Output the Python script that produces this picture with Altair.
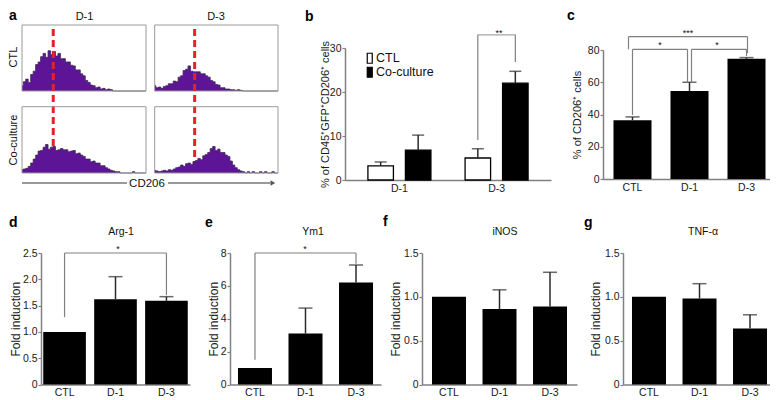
import altair as alt
import pandas as pd

FONT = "Liberation Sans"
GRAY = "#808080"
DARK = "#2b2b2b"
PURPLE = "#5e1496"
RED = "#e8202a"
W, H = 762, 392
M = 8


def p(v):
    return v - M

# ---------------- data ----------------
# panel a : flow histograms (CD206 fluorescence bins, % of box height)
hist_bins = list(range(0, 101, 2))
hist_ctl_d1 = [8, 14, 18, 13, 25, 30, 40, 44, 52, 57, 51, 61, 55, 60, 53, 57, 49, 49, 44, 44,
               39, 38, 32, 32, 26, 23, 16, 13, 9, 8, 5, 6, 3, 4, 2, 3, 2,
               0, 0, 0, 0, 0, 0, 0, 0, 0, 0, 0, 0, 0, 0]
hist_ctl_d3 = [8, 5, 6, 4, 7, 8, 11, 11, 15, 14, 21, 23, 31, 33, 38, 30, 29, 29, 29, 26,
               26, 23, 21, 16, 14, 10, 9, 5, 5, 3, 3, 2, 2, 1, 2, 1,
               0, 0, 0, 0, 0, 0, 0, 0, 0, 0, 0, 0, 0, 0, 0]
hist_co_d1 = [5, 6, 7, 10, 15, 21, 27, 33, 34, 39, 43, 36, 39, 40, 34, 35, 37, 35, 35, 32,
              33, 34, 29, 30, 27, 25, 21, 21, 17, 18, 15, 15, 11, 11, 8, 6, 4, 3, 2, 2,
              0, 0, 0, 0, 0, 2, 0, 0, 0, 0, 0]
hist_co_d3 = [4, 3, 2, 3, 4, 3, 5, 4, 6, 8, 9, 12, 10, 14, 15, 13, 17, 19, 22, 20,
              26, 28, 31, 37, 40, 34, 36, 31, 31, 27, 25, 18, 12, 8, 5, 3, 2, 0, 2, 0,
              2, 0, 0, 2, 0, 2, 0, 0, 2, 0, 0]
gate_d1 = 25.2
gate_d3 = 32.4

# panel b
b_days = ["D-1", "D-3"]
b_groups = ["CTL", "Co-culture"]
b_ctl = [3.2, 5.0]
b_ctl_err = [0.9, 2.1]
b_co = [6.8, 22.0]
b_co_err = [3.4, 2.7]

# panels c-g
cats = ["CTL", "D-1", "D-3"]
c_vals = [36.5, 54.5, 74.5]
c_err = [2.0, 5.5, 0.8]
arg1_vals = [1.0, 1.62, 1.59]
arg1_err = [0.0, 0.43, 0.08]
ym1_vals = [1.0, 3.1, 6.2]
ym1_err = [0.0, 1.55, 1.07]
inos_vals = [1.0, 0.86, 0.89]
inos_err = [0.0, 0.22, 0.39]
tnf_vals = [1.0, 0.98, 0.64]
tnf_err = [0.0, 0.17, 0.155]

# ---------------- helpers ----------------
AX = dict(domainColor=GRAY, domainWidth=1.5, tickColor=GRAY, tickWidth=1.2,
          labelFont=FONT, labelColor="#1a1a1a", titleFont=FONT, titleColor="#1a1a1a",
          titleFontWeight="normal", grid=False)
DEC = "datum.value == 0 ? '0' : format(datum.value, '.1f')"


def lin(domain, r_lo, r_hi):
    return alt.Scale(domain=domain, range=[p(r_lo), p(r_hi)], nice=False, zero=False)


def band(domain, r0, r1, pi, po):
    return alt.Scale(domain=domain, range=[p(r0), p(r1)], paddingInner=pi, paddingOuter=po)


def xaxis(y_page):
    return alt.Axis(orient="bottom", offset=p(y_page) - H, title=None, ticks=False,
                    labelPadding=3, labelAngle=0, labelFontSize=10.5, **AX)


def yaxis(x_page, values, title, tdist, ymid, expr=None, tsize=12):
    kw = dict(orient="left", offset=-p(x_page), values=values, title=title,
              titleX=-tdist, titleY=p(ymid), titleAngle=270, titleAlign="center",
              titleBaseline="middle", titleFontSize=tsize, tickSize=3, labelPadding=1,
              labelFontSize=10.5)
    if expr:
        kw["labelExpr"] = expr
    return alt.Axis(**kw, **AX)


def label(txt, x, y, size=11, weight="normal", angle=0, align="center", baseline="middle",
          color="#111111"):
    return alt.Chart(pd.DataFrame({"t": [txt]})).mark_text(
        font=FONT, fontSize=size, fontWeight=weight, angle=angle, align=align,
        baseline=baseline, color=color
    ).encode(text="t:N", x=alt.value(p(x)), y=alt.value(p(y)))


def bracket(xs, ys, a, b, level, ya, yb, da=0, db=0):
    df = pd.DataFrame({"a": [a], "b": [b], "lv": [level], "ya": [ya], "yb": [yb]})
    base = alt.Chart(df)
    hor = base.mark_rule(color=GRAY, strokeWidth=1.2, xOffset=da, x2Offset=db).encode(
        x=alt.X("a:N", scale=xs, axis=None), x2="b:N", y=alt.Y("lv:Q", scale=ys, axis=None))
    la = base.mark_rule(color=GRAY, strokeWidth=1.2, xOffset=da).encode(
        x=alt.X("a:N", scale=xs, axis=None), y=alt.Y("ya:Q", scale=ys, axis=None), y2="lv:Q")
    lb = base.mark_rule(color=GRAY, strokeWidth=1.2, xOffset=db).encode(
        x=alt.X("b:N", scale=xs, axis=None), y=alt.Y("yb:Q", scale=ys, axis=None), y2="lv:Q")
    return [hor, la, lb]


def bar_panel(vals, errs, xr, pi, po, yr, ydom, yvals, ytitle, tdist, expr=None, tsize=12,
              cap=14):
    xs = band(cats, xr[0], xr[1], pi, po)
    ys = lin(ydom, yr[0], yr[1])
    df = pd.DataFrame({"cat": cats, "val": vals, "err": errs,
                       "top": [v + e for v, e in zip(vals, errs)]})
    bars = alt.Chart(df).mark_bar(color="black").encode(
        x=alt.X("cat:N", scale=xs, axis=xaxis(yr[0])),
        y=alt.Y("val:Q", scale=ys,
                axis=yaxis(xr[0], yvals, ytitle, tdist, (yr[0] + yr[1]) / 2, expr, tsize)))
    edf = df[df.err > 0]
    erule = alt.Chart(edf).mark_rule(color=DARK, strokeWidth=1.5).encode(
        x=alt.X("cat:N", scale=xs, axis=None), y=alt.Y("val:Q", scale=ys, axis=None),
        y2="top:Q")
    ecap = alt.Chart(edf).mark_tick(color=DARK, thickness=1.5, size=cap).encode(
        x=alt.X("cat:N", scale=xs, axis=None), y=alt.Y("top:Q", scale=ys, axis=None))
    return [bars, erule, ecap], xs, ys


layers = []

# ---------------- panel a ----------------
boxes = [
    (hist_ctl_d1, 22, 146, 91, 25, gate_d1, True),
    (hist_ctl_d3, 154.7, 278, 91, 25, gate_d3, True),
    (hist_co_d1, 22, 146, 173, 106.7, gate_d1, False),
    (hist_co_d3, 154.7, 278, 173, 106.7, gate_d3, False),
]
for counts, x0, x1, yb, yt, gate, top in boxes:
    xs = lin([0, 100], x0, x1)
    ys = lin([0, 100], yb, yt)
    hdf = pd.DataFrame({"fl": hist_bins, "n": counts})
    layers.append(alt.Chart(hdf).mark_area(
        color=PURPLE, opacity=1, interpolate="step",
        line={"color": "#3b2a52", "strokeWidth": 0.8, "interpolate": "step"}).encode(
        x=alt.X("fl:Q", scale=xs, axis=None), y=alt.Y("n:Q", scale=ys, axis=None)))
    fdf = pd.DataFrame({"a": [0], "b": [100]})
    layers.append(alt.Chart(fdf).mark_rect(fillOpacity=0, stroke="#9a9a9a", strokeWidth=1).encode(
        x=alt.X("a:Q", scale=xs, axis=None), x2="b:Q",
        y=alt.Y("a:Q", scale=ys, axis=None), y2="b:Q"))
    if top:
        gdf = pd.DataFrame({"g": [gate]})
        layers.append(alt.Chart(gdf).mark_rule(color=RED, strokeWidth=3, strokeDash=[7, 4]).encode(
            x=alt.X("g:Q", scale=xs, axis=None), y=alt.value(p(29)), y2=alt.value(p(170))))

# CD206 arrow
ars = lin([0, 100], 22, 278)
adf = pd.DataFrame({"a": [0, 57], "b": [41, 97]})
layers.append(alt.Chart(adf).mark_rule(color="#777777", strokeWidth=1.5).encode(
    x=alt.X("a:Q", scale=ars, axis=None), x2="b:Q", y=alt.value(p(183))))
layers.append(alt.Chart(pd.DataFrame({"a": [98]})).mark_point(
    shape="triangle-right", filled=True, size=30, color="#555555", opacity=1).encode(
    x=alt.X("a:Q", scale=ars, axis=None), y=alt.value(p(183))))
layers.append(label("CD206", 147, 183.5, size=11.5))
layers.append(label("D-1", 84.5, 17, size=11))
layers.append(label("D-3", 216, 17, size=11))
layers.append(label("CTL", 14, 57, size=11, angle=270))
layers.append(label("Co-culture", 14, 140, size=11, angle=270))

# ---------------- panel b ----------------
B_SHIFT = 18.75
b_r0, b_r1, b_po = 345, 551, 0.06
b_y = lin([0, 30], 180, 48)
b_center = band(b_days, b_r0, b_r1, 0, b_po)
b_legend = alt.Legend(orient="none", legendX=p(363.5), legendY=p(52), title=None,
                      symbolType="M-0.5,-1H0.5V1H-0.5Z", symbolSize=100,
                      symbolStrokeColor="black", symbolStrokeWidth=1.2, labelFont=FONT,
                      labelFontSize=12.5, labelOffset=0, rowPadding=-5, labelColor="#111111")
b_fill = alt.Scale(domain=b_groups, range=["white", "black"])
for grp, vals, errs, sh in [("CTL", b_ctl, b_ctl_err, -B_SHIFT),
                            ("Co-culture", b_co, b_co_err, B_SHIFT)]:
    xs = band(b_days, b_r0 + sh, b_r1 + sh, 0, b_po)
    df = pd.DataFrame({"day": b_days, "grp": grp, "val": vals, "err": errs,
                       "top": [v + e for v, e in zip(vals, errs)]})
    layers.append(alt.Chart(df).mark_bar(width=25.5, stroke="black", strokeWidth=1.3).encode(
        x=alt.X("day:N", scale=xs, axis=None), y=alt.Y("val:Q", scale=b_y, axis=None),
        fill=alt.Fill("grp:N", scale=b_fill, legend=b_legend)))
    layers.append(alt.Chart(df).mark_rule(color=DARK, strokeWidth=1.5).encode(
        x=alt.X("day:N", scale=xs, axis=None), y=alt.Y("val:Q", scale=b_y, axis=None),
        y2="top:Q"))
    layers.append(alt.Chart(df).mark_tick(color=DARK, thickness=1.5, size=12).encode(
        x=alt.X("day:N", scale=xs, axis=None), y=alt.Y("top:Q", scale=b_y, axis=None)))
# b bracket legs
b_sig_level = 33.0
for sh, low in [(-B_SHIFT, 9.1), (B_SHIFT, 26.8)]:
    xs = band(b_days, b_r0 + sh, b_r1 + sh, 0, b_po)
    ldf = pd.DataFrame({"day": ["D-3"], "lo": [low], "hi": [b_sig_level]})
    layers.append(alt.Chart(ldf).mark_rule(color=GRAY, strokeWidth=1.2).encode(
        x=alt.X("day:N", scale=xs, axis=None), y=alt.Y("lo:Q", scale=b_y, axis=None),
        y2="hi:Q"))
hdf = pd.DataFrame({"day": ["D-3"], "hi": [b_sig_level]})
layers.append(alt.Chart(hdf).mark_tick(color=GRAY, thickness=1.2, size=2 * B_SHIFT).encode(
    x=alt.X("day:N", scale=b_center, axis=xaxis(180)),
    y=alt.Y("hi:Q", scale=b_y,
            axis=yaxis(345, [0, 10, 20, 30], "% of CD45⁺GFP⁺CD206⁺ cells", 19.5, 114,
                       tsize=11))))
layers.append(label("**", 499, 36, size=9, baseline="alphabetic"))

# ---------------- panel c ----------------
lc, xs, ys = bar_panel(c_vals, c_err, (603, 776), 0.333, 0.184, (179, 50), [0, 80],
                       [0, 20, 40, 60, 80], "% of CD206⁺ cells", 25.5, tsize=11, cap=14)
layers += lc
layers += bracket(xs, ys, "CTL", "D-1", 80.4, 39.7, 60.2, 0, -2)
layers += bracket(xs, ys, "D-1", "D-3", 80.4, 60.2, 76.3, 2, 0)
layers += bracket(xs, ys, "CTL", "D-3", 88.3, 80.4, 78.0, -4, 1)
layers.append(label("*", 660, 48, size=9, baseline="alphabetic"))
layers.append(label("*", 717, 48, size=9, baseline="alphabetic"))
layers.append(label("***", 688, 35.5, size=9, baseline="alphabetic"))

# ---------------- panels d-g ----------------
Y0 = 384.5
ld, xs, ys = bar_panel(arg1_vals, arg1_err, (41, 190), 0.163, 0.044, (Y0, 253), [0, 2.5],
                       [0, 0.5, 1.0, 1.5, 2.0, 2.5], "Fold induction", 26, expr=DEC)
layers += ld
layers += bracket(xs, ys, "CTL", "D-3", 2.5, 1.28, 1.70)
layers.append(label("*", 118, 251.5, size=9, baseline="alphabetic"))

le, xs, ys = bar_panel(ym1_vals, ym1_err, (230, 381), 0.327, 0.158, (Y0, 253), [0, 8],
                       [0, 2, 4, 6, 8], "Fold induction", 17)
layers += le
layers += bracket(xs, ys, "CTL", "D-3", 8.0, 1.5, 7.35)
layers.append(label("*", 305, 251.5, size=9, baseline="alphabetic"))

lf, xs, ys = bar_panel(inos_vals, inos_err, (422, 577), 0.327, 0.198, (Y0, 253), [0, 1.5],
                       [0, 0.5, 1.0, 1.5], "Fold induction", 27, expr=DEC)
layers += lf
lg, xs, ys = bar_panel(tnf_vals, tnf_err, (623, 776), 0.327, 0.178, (Y0, 253), [0, 1.5],
                       [0, 0.5, 1.0, 1.5], "Fold induction", 28, expr=DEC)
layers += lg

# panel titles and letters
for t, x in [("Arg-1", 121), ("Ym1", 313), ("iNOS", 505), ("TNF-α", 703)]:
    layers.append(label(t, x, 235, size=10.5, baseline="alphabetic"))
for t, x, y in [("a", 9, 20), ("b", 305, 21), ("c", 567, 20), ("d", 9, 227),
                ("e", 205, 227), ("f", 383, 226), ("g", 584, 227)]:
    layers.append(label(t, x, y, size=14, weight="bold", align="left", baseline="alphabetic",
                        color="#000000"))

chart = alt.layer(*layers).resolve_scale(
    x="independent", y="independent"
).properties(
    width=W, height=H, autosize=alt.AutoSizeParams(type="none"), padding=0
).configure_view(strokeWidth=0)

chart.save("out.html", embed_options={"renderer": "svg", "actions": False})
